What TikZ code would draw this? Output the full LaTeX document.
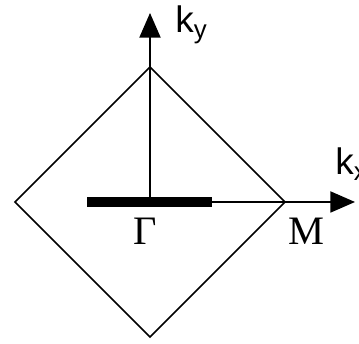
\documentclass[tikz,border=0pt]{standalone}
\usepackage{fontspec}
\setmainfont{Liberation Serif}
\newfontfamily\axisfont{Liberation Sans}
\newfontfamily\pointfont{Liberation Serif}
\usetikzlibrary{positioning,arrows.meta}

\begin{document}
\begin{tikzpicture}[
        every node/.style={inner sep=0pt},
        bzone/.style={black,line width=0.9pt,line join=miter},
        kaxis/.style={black,line width=0.9pt,-{Triangle[length=14pt,width=12pt]}},
        kpath/.style={black,line width=5.5pt},
        klab/.style={font=\axisfont\fontsize{21}{25}\selectfont},
        plab/.style={font=\pointfont\fontsize{23}{27}\selectfont},
      ]
      \useasboundingbox (0,0) rectangle (7.18,6.88);
      % Brillouin zone corners
      \coordinate (G)  at (3.0, 2.84);
      \coordinate (X1) at (0.3, 2.84);
      \coordinate (Y1) at (3.0, 5.54);
      \coordinate (Mp) at (5.7, 2.84);
      \coordinate (Y2) at (3.0, 0.14);
      \coordinate (kxend) at (7.1, 2.84);
      \coordinate (kyend) at (3.0, 6.62);
      \coordinate (pa) at (1.74, 2.84);
      \coordinate (pb) at (4.24, 2.84);

      \draw[bzone] (X1) -- (Y1) -- (Mp) -- (Y2) -- cycle;
      \draw[kaxis] (G) -- (kxend);
      \draw[kaxis] (G) -- (kyend);
      \draw[kpath] (pa) -- (pb);

      \node[klab,anchor=base west] (ky) at (3.5, 6.22) {k\textsubscript{y}};
      \node[klab,anchor=base west] (kx) at (6.7, 3.38) {k\textsubscript{x}};
      \node[plab,anchor=base] (gam) at (2.9, 1.98) {Γ};
      \node[plab,anchor=base] (mpt) at (6.12, 1.98) {M};
\end{tikzpicture}
\end{document}
